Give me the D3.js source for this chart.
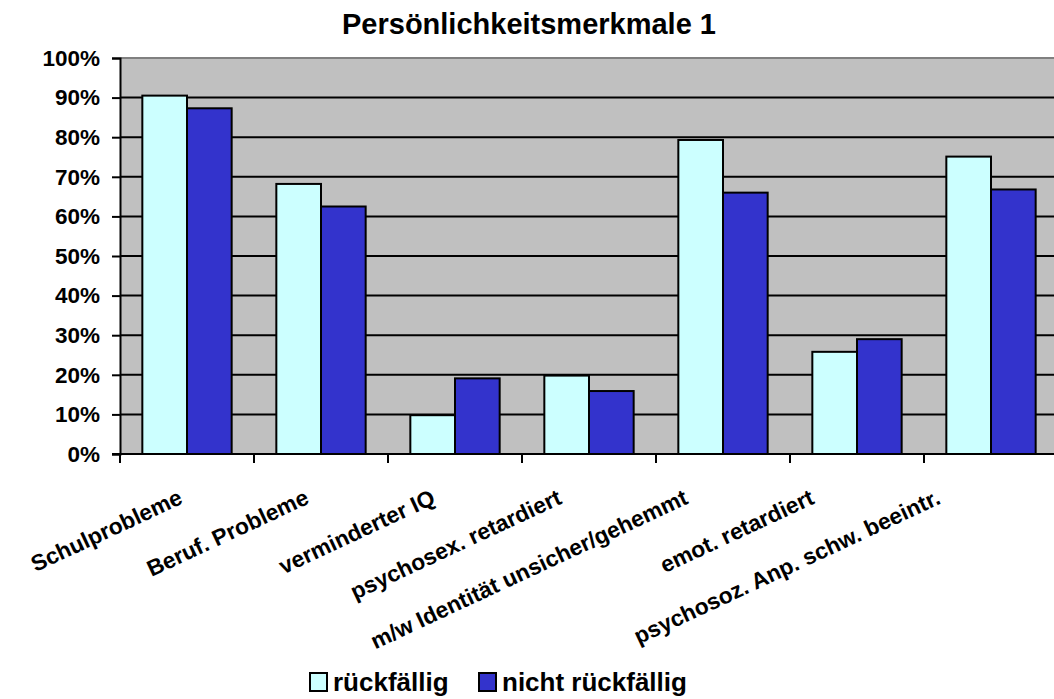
<!DOCTYPE html>
<html>
<head>
<meta charset="utf-8">
<script src="https://cdn.jsdelivr.net/npm/d3@7"></script>
<style>
  html, body { margin: 0; padding: 0; background: #fff; overflow: hidden; }
  svg { display: block; font-family: "Liberation Sans", Arial, sans-serif; font-weight: bold; }
</style>
</head>
<body>
<svg id="chart" width="1054" height="699"></svg>
<script>
// Persönlichkeitsmerkmale – Anteile in Prozent
const categories = [
  "Schulprobleme",
  "Beruf. Probleme",
  "verminderter IQ",
  "psychosex. retardiert",
  "m/w Identität unsicher/gehemmt",
  "emot. retardiert",
  "psychosoz. Anp. schw. beeintr."
];
const seriesNames = ["rückfällig", "nicht rückfällig"];
const rueckfaellig = [90.5, 68.2, 9.8, 19.8, 79.3, 25.8, 75.1];
const nichtRueckfaellig = [87.3, 62.5, 19.1, 15.9, 66.0, 29.0, 66.8];
const yTicks = [0, 10, 20, 30, 40, 50, 60, 70, 80, 90, 100];
const colors = ["#CCFFFF", "#3333CC"];

const svg = d3.select("#chart");
const plot = { left: 120, right: 1058, top: 58, bottom: 454 };

const x0 = d3.scaleBand().domain(categories).range([plot.left, plot.right]).padding(0);
const x1 = d3.scaleBand().domain(seriesNames).range([0, x0.bandwidth()])
  .paddingInner(0).paddingOuter(0.5);
const y = d3.scaleLinear().domain([0, 100]).range([plot.bottom, plot.top]);
// end points of the slanted category labels
const xLabel = d3.scalePoint().domain(categories).range([184, 942]);

// title
svg.append("text")
  .attr("x", 529).attr("y", 34)
  .attr("text-anchor", "middle")
  .style("font-size", "29px")
  .text("Persönlichkeitsmerkmale 1");

// plot background
svg.append("rect")
  .attr("x", plot.left).attr("y", plot.top)
  .attr("width", plot.right - plot.left).attr("height", plot.bottom - plot.top)
  .attr("fill", "#C0C0C0");
svg.append("line")
  .attr("x1", plot.left).attr("x2", plot.right)
  .attr("y1", plot.top).attr("y2", plot.top)
  .attr("stroke", "#808080").attr("stroke-width", 2);

// gridlines
svg.append("g").selectAll("line")
  .data(yTicks.filter(t => t > 0 && t < 100))
  .join("line")
  .attr("x1", plot.left).attr("x2", plot.right)
  .attr("y1", d => y(d)).attr("y2", d => y(d))
  .attr("stroke", "#000").attr("stroke-width", 2);

// bars
const rows = categories.map((c, i) => ({ cat: c, vals: [rueckfaellig[i], nichtRueckfaellig[i]] }));
svg.append("g").selectAll("g")
  .data(rows)
  .join("g")
  .attr("transform", d => `translate(${x0(d.cat)},0)`)
  .selectAll("rect")
  .data(d => d.vals.map((v, j) => ({ key: seriesNames[j], v, j })))
  .join("rect")
  .attr("x", d => x1(d.key))
  .attr("y", d => y(d.v))
  .attr("width", x1.bandwidth())
  .attr("height", d => y(0) - y(d.v))
  .attr("fill", d => colors[d.j])
  .attr("stroke", "#000").attr("stroke-width", 2);

// y axis
const yAxis = svg.append("g")
  .attr("transform", `translate(${plot.left},0)`)
  .call(d3.axisLeft(y).tickValues(yTicks).tickFormat(d => d + "%").tickSize(8).tickPadding(12));
yAxis.select(".domain").attr("stroke", "#000").attr("stroke-width", 2);
yAxis.selectAll(".tick line").attr("stroke", "#000").attr("stroke-width", 2);
yAxis.selectAll(".tick text")
  .attr("fill", "#000")
  .style("font-size", "22.5px").style("font-weight", "bold")
  .style("font-family", "'Liberation Sans', Arial, sans-serif");

// x axis baseline and category ticks
const xAxis = svg.append("g")
  .attr("transform", `translate(0,${plot.bottom})`)
  .call(d3.axisBottom(x0).tickSize(0).tickFormat(""));
xAxis.select(".domain").attr("stroke", "#000").attr("stroke-width", 2)
  .attr("d", `M${plot.left - 8},0H${plot.right}`);
svg.append("g").selectAll("line")
  .data(categories)
  .join("line")
  .attr("x1", d => x0(d)).attr("x2", d => x0(d))
  .attr("y1", plot.bottom).attr("y2", plot.bottom + 9)
  .attr("stroke", "#000").attr("stroke-width", 2);

// slanted category labels
svg.append("g").selectAll("text")
  .data(categories)
  .join("text")
  .attr("text-anchor", "end")
  .attr("transform", d => `translate(${xLabel(d)},503) rotate(-25)`)
  .style("font-size", "22.7px")
  .text(d => d);

// legend
const legendItems = [
  { name: seriesNames[0], color: colors[0], x: 310 },
  { name: seriesNames[1], color: colors[1], x: 479 }
];
const lg = svg.append("g").selectAll("g").data(legendItems).join("g")
  .attr("transform", d => `translate(${d.x},673)`);
lg.append("rect")
  .attr("width", 17).attr("height", 18)
  .attr("fill", d => d.color)
  .attr("stroke", "#000").attr("stroke-width", 2);
lg.append("text")
  .attr("x", 23).attr("y", 18)
  .style("font-size", "26px")
  .text(d => d.name);
</script>
</body>
</html>
